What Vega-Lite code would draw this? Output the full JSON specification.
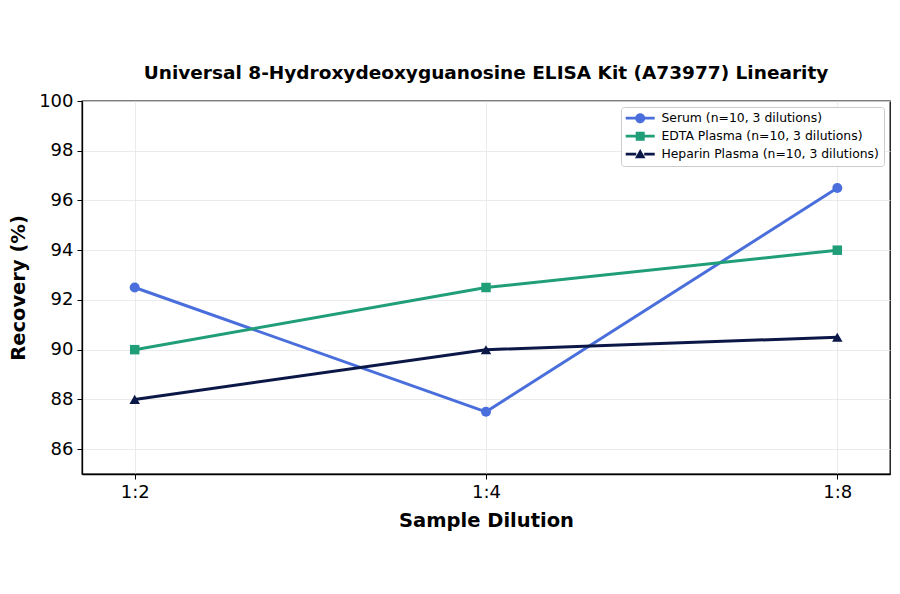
{
  "$schema": "https://vega.github.io/schema/vega-lite/v6.json",
  "width": 808,
  "height": 373,
  "autosize": {"type": "none"},
  "padding": {"left": 82, "top": 101, "right": 10, "bottom": 120},
  "background": "white",
  "title": {
    "text": "Universal 8-Hydroxydeoxyguanosine ELISA Kit (A73977) Linearity",
    "font": "DejaVu Sans",
    "fontSize": 18.5,
    "fontWeight": "bold",
    "color": "black",
    "anchor": "middle",
    "offset": 10
  },
  "config": {
    "font": "DejaVu Sans",
    "view": {"stroke": "black", "strokeWidth": 1.3},
    "axis": {
      "domainColor": "black",
      "domainWidth": 1.3,
      "tickColor": "black",
      "tickSize": 5,
      "tickWidth": 1,
      "labelFont": "DejaVu Sans",
      "labelFontSize": 18,
      "labelColor": "black",
      "titleFont": "DejaVu Sans",
      "titleFontSize": 19.5,
      "titleFontWeight": "bold",
      "titleColor": "black",
      "gridColor": "#e6e6e6",
      "gridWidth": 0.8
    }
  },
  "data": {
    "values": [
      {"dilution": "1:2", "sample": "Serum (n=10, 3 dilutions)", "recovery": 92.5},
      {"dilution": "1:4", "sample": "Serum (n=10, 3 dilutions)", "recovery": 87.5},
      {"dilution": "1:8", "sample": "Serum (n=10, 3 dilutions)", "recovery": 96.5},
      {"dilution": "1:2", "sample": "EDTA Plasma (n=10, 3 dilutions)", "recovery": 90.0},
      {"dilution": "1:4", "sample": "EDTA Plasma (n=10, 3 dilutions)", "recovery": 92.5},
      {"dilution": "1:8", "sample": "EDTA Plasma (n=10, 3 dilutions)", "recovery": 94.0},
      {"dilution": "1:2", "sample": "Heparin Plasma (n=10, 3 dilutions)", "recovery": 88.0},
      {"dilution": "1:4", "sample": "Heparin Plasma (n=10, 3 dilutions)", "recovery": 90.0},
      {"dilution": "1:8", "sample": "Heparin Plasma (n=10, 3 dilutions)", "recovery": 90.5}
    ]
  },
  "encoding": {
    "x": {
      "field": "dilution",
      "type": "ordinal",
      "sort": ["1:2", "1:4", "1:8"],
      "scale": {"type": "point", "padding": 0.15},
      "axis": {"title": "Sample Dilution", "labelAngle": 0, "grid": true, "labelPadding": 4, "titlePadding": 10}
    },
    "y": {
      "field": "recovery",
      "type": "quantitative",
      "scale": {"domain": [85, 100], "nice": false, "zero": false},
      "axis": {"title": "Recovery (%)", "values": [86, 88, 90, 92, 94, 96, 98, 100], "grid": true, "labelPadding": 4, "titlePadding": 10}
    },
    "color": {
      "field": "sample",
      "type": "nominal",
      "sort": ["Serum (n=10, 3 dilutions)", "EDTA Plasma (n=10, 3 dilutions)", "Heparin Plasma (n=10, 3 dilutions)"],
      "scale": {
        "domain": ["Serum (n=10, 3 dilutions)", "EDTA Plasma (n=10, 3 dilutions)", "Heparin Plasma (n=10, 3 dilutions)"],
        "range": ["#4a6fdc", "#1f9e78", "#0b1747"]
      },
      "legend": {
        "title": null,
        "orient": "top-right",
        "offset": 6,
        "labelFont": "DejaVu Sans",
        "labelFontSize": 12.4,
        "labelColor": "black",
        "labelLimit": 400,
        "fillColor": "white",
        "strokeColor": "#cccccc",
        "cornerRadius": 3,
        "padding": 5,
        "rowPadding": 5,
        "symbolSize": 100,
        "symbolOffset": 8,
        "symbolType": "M-2.9,-0.28H-0.9V0.28H-2.9Z M0.9,-0.28H2.9V0.28H0.9Z M1,0 A1,1 0 1,1 -1,0 A1,1 0 1,1 1,0 Z",
        "symbolStrokeWidth": 0,
        "symbolOpacity": 1,
        "labelOffset": 15,
        "encode": {
          "symbols": {
            "update": {
              "shape": {"signal": "indexof(datum.value, 'Serum') == 0 ? 'M-2.9,-0.28H-0.9V0.28H-2.9Z M0.9,-0.28H2.9V0.28H0.9Z M1,0 A1,1 0 1,1 -1,0 A1,1 0 1,1 1,0 Z' : indexof(datum.value, 'EDTA') == 0 ? 'M-2.9,-0.28H-0.85V0.28H-2.9Z M0.85,-0.28H2.9V0.28H0.85Z M-0.9,-0.9H0.9V0.9H-0.9Z' : 'M-2.9,-0.28H-0.8V0.28H-2.9Z M0.8,-0.28H2.9V0.28H0.8Z M0,-1.05L1.05,0.8H-1.05Z'"},
              "fill": {"signal": "indexof(datum.value, 'Serum') == 0 ? '#4a6fdc' : indexof(datum.value, 'EDTA') == 0 ? '#1f9e78' : '#0b1747'"},
              "fillOpacity": {"value": 1},
              "strokeWidth": {"value": 0}
            }
          }
        }
      }
    }
  },
  "layer": [
    {
      "mark": {"type": "line", "strokeWidth": 3}
    },
    {
      "transform": [{"filter": "indexof(datum.sample, 'Serum') == 0"}],
      "mark": {"type": "point", "filled": true, "size": 100, "opacity": 1, "shape": "circle"}
    },
    {
      "transform": [{"filter": "indexof(datum.sample, 'EDTA') == 0"}],
      "mark": {"type": "point", "filled": true, "size": 90, "opacity": 1, "shape": "square"}
    },
    {
      "transform": [{"filter": "indexof(datum.sample, 'Heparin') == 0"}],
      "mark": {"type": "point", "filled": true, "size": 110, "opacity": 1, "shape": "triangle-up"}
    }
  ]
}
